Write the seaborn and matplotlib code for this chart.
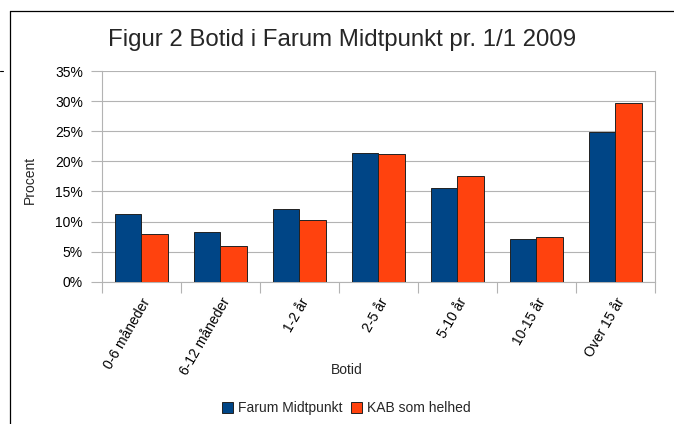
import matplotlib
matplotlib.use('Agg')
import matplotlib.pyplot as plt
import seaborn as sns
import pandas as pd
from matplotlib.lines import Line2D
from matplotlib.ticker import FixedLocator, PercentFormatter

# Data
categories = ['0-6 måneder', '6-12 måneder', '1-2 år', '2-5 år', '5-10 år', '10-15 år', 'Over 15 år']
farum = [11.2, 8.2, 12.1, 21.4, 15.6, 7.05, 24.8]
kab = [7.9, 5.9, 10.3, 21.2, 17.6, 7.4, 29.7]
series = ['Farum Midtpunkt', 'KAB som helhed']
colors = ['#004586', '#ff420e']
y_ticks = [0, 5, 10, 15, 20, 25, 30, 35]

df = pd.DataFrame({
    'Botid': categories * 2,
    'Procent': farum + kab,
    'Serie': [series[0]] * len(categories) + [series[1]] * len(categories),
})

sns.set_theme(style='white')
plt.rcParams['font.family'] = ['Liberation Sans', 'DejaVu Sans']

grid_col = '#b3b3b3'

fig = plt.figure(figsize=(6.74, 4.24), dpi=100)
ax = fig.add_axes([0.1513, 0.3356, 0.8205, 0.4969])

sns.barplot(data=df, x='Botid', y='Procent', hue='Serie', palette=colors,
            width=0.665, edgecolor='#222222', linewidth=0.7, saturation=1,
            legend=False, ax=ax, zorder=3)

ax.set_ylim(0, 35)
ax.set_xlim(-0.5, len(categories) - 0.5)
ax.yaxis.set_major_locator(FixedLocator(y_ticks))
ax.yaxis.set_major_formatter(PercentFormatter(decimals=0))
ax.grid(axis='y', color=grid_col, linewidth=0.8, zorder=0)
ax.set_axisbelow(True)

for s in ['left', 'right', 'bottom', 'top']:
    ax.spines[s].set_color(grid_col)
    ax.spines[s].set_linewidth(0.8)
ax.spines['top'].set_visible(False)

ax.tick_params(axis='y', which='major', length=7.7, color=grid_col, width=0.8,
               labelsize=10, pad=6, labelcolor='black', left=True)
ax.set_xticks(range(len(categories)))
ax.set_xticklabels(categories, rotation=60, ha='right', va='top',
                   rotation_mode='anchor', fontsize=10)
ax.tick_params(axis='x', which='major', length=0, pad=10, labelcolor='black')
ax.set_xticks([i - 0.5 for i in range(len(categories) + 1)], minor=True)
ax.tick_params(axis='x', which='minor', length=8, color=grid_col, width=0.8, bottom=True)
ax.set_xlabel('')
ax.set_ylabel('')

fig.text(0.508, 0.906, 'Figur 2 Botid i Farum Midtpunkt pr. 1/1 2009',
         ha='center', va='center', fontsize=17.3)
fig.text(0.045, 0.575, 'Procent', rotation=90, ha='center', va='center', fontsize=10)
fig.text(0.5144, 0.1274, 'Botid', ha='center', va='center', fontsize=10)

handles = [plt.Rectangle((0, 0), 1, 1, facecolor=c, edgecolor='#222222', linewidth=0.7)
           for c in colors]
fig.legend(handles, series, loc='center', bbox_to_anchor=(0.514, 0.0377), ncol=2,
           frameon=False, fontsize=10, handlelength=0.8, handleheight=0.8,
           handletextpad=0.35, columnspacing=0.65)

# outer chart frame (left and top edges)
fig.add_artist(Line2D([10 / 674, 10 / 674], [1 - 11 / 424, 0], transform=fig.transFigure,
                      color='black', linewidth=0.9))
fig.add_artist(Line2D([10 / 674, 1], [1 - 11 / 424, 1 - 11 / 424], transform=fig.transFigure,
                      color='black', linewidth=0.9))
fig.add_artist(Line2D([0, 3 / 674], [1 - 71 / 424, 1 - 71 / 424], transform=fig.transFigure,
                      color='black', linewidth=0.8))

fig.savefig('out.png', dpi=100)
